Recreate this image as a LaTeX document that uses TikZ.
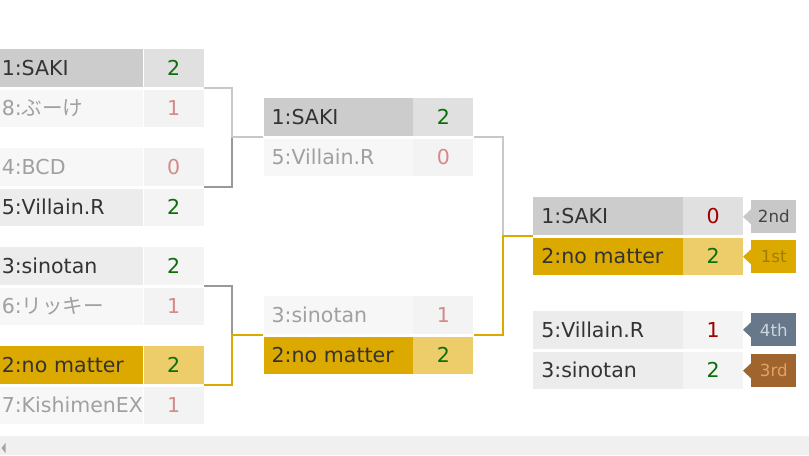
\documentclass[tikz,border=0pt]{standalone}
\usepackage{fontspec}
\setmainfont{DejaVu Sans}
\newfontfamily\jpfont{Noto Sans CJK JP}
\usetikzlibrary{calc,positioning}

\definecolor{cSeedN}{HTML}{CCCCCC}
\definecolor{cSeedS}{HTML}{E0E0E0}
\definecolor{cGoldN}{HTML}{DCA900}
\definecolor{cGoldS}{HTML}{ECCD6A}
\definecolor{cWinN}{HTML}{ECECEC}
\definecolor{cWinS}{HTML}{F4F4F4}
\definecolor{cOutN}{HTML}{F7F7F7}
\definecolor{cOutS}{HTML}{F3F3F3}
\definecolor{cTxt}{HTML}{333333}
\definecolor{cOutTxt}{HTML}{A0A0A0}
\definecolor{cWin}{HTML}{0A6E0A}
\definecolor{cLoseP}{HTML}{D48A8A}
\definecolor{cLoseR}{HTML}{A00000}
\definecolor{cLnLight}{HTML}{C8C8C8}
\definecolor{cLnDark}{HTML}{999999}
\definecolor{cT2}{HTML}{C8C8C8}
\definecolor{cT2txt}{HTML}{444444}
\definecolor{cT1txt}{HTML}{A47C00}
\definecolor{cT4}{HTML}{66788A}
\definecolor{cT4txt}{HTML}{CCD5DD}
\definecolor{cT3}{HTML}{A0652F}
\definecolor{cT3txt}{HTML}{E8A060}
\definecolor{cScroll}{HTML}{F0F0F0}
\definecolor{cScrollArr}{HTML}{A3A3A3}

\tikzset{
  nm/.style={rectangle, anchor=north west, inner xsep=6pt, inner ysep=0pt,
    text width=100pt, align=left, minimum height=28pt,
    text height=11.5pt, text depth=0.5pt, text=cTxt,
    font=\fontsize{15.4}{18}\selectfont},
  sc/.style={rectangle, inner sep=0pt, minimum width=45pt, minimum height=28pt,
    text height=11.5pt, text depth=0.5pt, font=\fontsize{15.4}{18}\selectfont},
  seedN/.style={nm, fill=cSeedN},
  goldN/.style={nm, fill=cGoldN},
  winN/.style={nm, fill=cWinN},
  outN/.style={nm, fill=cOutN, text=cOutTxt},
  seedS/.style={sc, fill=cSeedS},
  goldS/.style={sc, fill=cGoldS},
  winS/.style={sc, fill=cWinS},
  outS/.style={sc, fill=cOutS},
  win/.style={text=cWin},
  lose/.style={text=cLoseP},
  loseF/.style={text=cLoseR},
  ln/.style={line width=1.5pt},
  tag/.style={rectangle, anchor=north west, inner sep=0pt,
    minimum width=33.75pt, minimum height=24.75pt,
    font=\fontsize{12.5}{14}\selectfont},
}

\begin{document}
\begin{tikzpicture}[x=0.75pt,y=-0.75pt]
\useasboundingbox (0,0) rectangle (809,455);
\clip (0,0) rectangle (809,455);

% round 1
\node[seedN] (a1) at (-6.5,49) {1:SAKI};
\node[seedS,win,right=0pt of a1] (a1s) {2};
\node[outN,below=2pt of a1] (b1) {8:{\jpfont ぶーけ}};
\node[outS,lose,right=0pt of b1] (b1s) {1};

\node[outN] (a2) at (-6.5,148) {4:BCD};
\node[outS,lose,right=0pt of a2] (a2s) {0};
\node[winN,below=2pt of a2] (b2) {5:Villain.R};
\node[winS,win,right=0pt of b2] (b2s) {2};

\node[winN] (a3) at (-6.5,247) {3:sinotan};
\node[winS,win,right=0pt of a3] (a3s) {2};
\node[outN,below=2pt of a3] (b3) {6:{\jpfont リッキー}};
\node[outS,lose,right=0pt of b3] (b3s) {1};

\node[goldN] (a4) at (-6.5,346) {2:no matter};
\node[goldS,win,right=0pt of a4] (a4s) {2};
\node[outN,below=2pt of a4] (b4) {7:KishimenEX};
\node[outS,lose,right=0pt of b4] (b4s) {1};

% round 2
\node[seedN] (c1) at (263.3,98) {1:SAKI};
\node[seedS,win,right=0pt of c1] (c1s) {2};
\node[outN,below=2pt of c1] (d1) {5:Villain.R};
\node[outS,lose,right=0pt of d1] (d1s) {0};

\node[outN] (c2) at (263.3,296) {3:sinotan};
\node[outS,lose,right=0pt of c2] (c2s) {1};
\node[goldN,below=2pt of c2] (d2) {2:no matter};
\node[goldS,win,right=0pt of d2] (d2s) {2};

% final and 3rd place
\node[seedN] (e1) at (533,197) {1:SAKI};
\node[seedS,loseF,right=0pt of e1] (e1s) {0};
\node[goldN,below=2pt of e1] (f1) {2:no matter};
\node[goldS,win,right=0pt of f1] (f1s) {2};

\node[winN] (e2) at (533,311) {5:Villain.R};
\node[winS,loseF,right=0pt of e2] (e2s) {1};
\node[winN,below=2pt of e2] (f2) {3:sinotan};
\node[winS,win,right=0pt of f2] (f2s) {2};

% lines
\coordinate (m1) at ($(c1.south west)!.5!(d1.north west)$);
\coordinate (m2) at ($(c2.south west)!.5!(d2.north west)$);
\coordinate (m3) at ($(e1.south west)!.5!(f1.north west)$);
\draw[ln,cLnDark] ($(a2s.south east)!.5!(b2s.north east)$) -- ++(28,0) |- (m1);
\draw[ln,cLnLight] ($(a1s.south east)!.5!(b1s.north east)$) -- ++(28,0) |- (m1);
\draw[ln,cLnDark] ($(a3s.south east)!.5!(b3s.north east)$) -- ++(28,0) |- (m2);
\draw[ln,cGoldN] ($(a4s.south east)!.5!(b4s.north east)$) -- ++(28,0) |- (m2);
\draw[ln,cLnLight] ($(c1s.south east)!.5!(d1s.north east)$) -- ++(29,0) |- (m3);
\draw[ln,cGoldN] ($(c2s.south east)!.5!(d2s.north east)$) -- ++(29,0) |- (m3);

% rank tags
\node[tag,fill=cT2,text=cT2txt] (t2) at (751,200) {2nd};
\fill[cT2] (t2.west) ++(0,-7.5) -- ++(-8,7.5) -- ++(8,7.5) -- cycle;
\node[tag,fill=cGoldN,text=cT1txt] (t1) at (751,240) {1st};
\fill[cGoldN] (t1.west) ++(0,-7.5) -- ++(-8,7.5) -- ++(8,7.5) -- cycle;
\node[tag,fill=cT4,text=cT4txt] (t4) at (751,313) {4th};
\fill[cT4] (t4.west) ++(0,-7.5) -- ++(-8,7.5) -- ++(8,7.5) -- cycle;
\node[tag,fill=cT3,text=cT3txt] (t3) at (751,354) {3rd};
\fill[cT3] (t3.west) ++(0,-7.5) -- ++(-8,7.5) -- ++(8,7.5) -- cycle;

% scroll bar
\fill[cScroll] (0,436) rectangle (809,455);
\fill[cScrollArr] (1.5,448) -- (5.5,443) -- (5.5,453) -- cycle;
\end{tikzpicture}
\end{document}
